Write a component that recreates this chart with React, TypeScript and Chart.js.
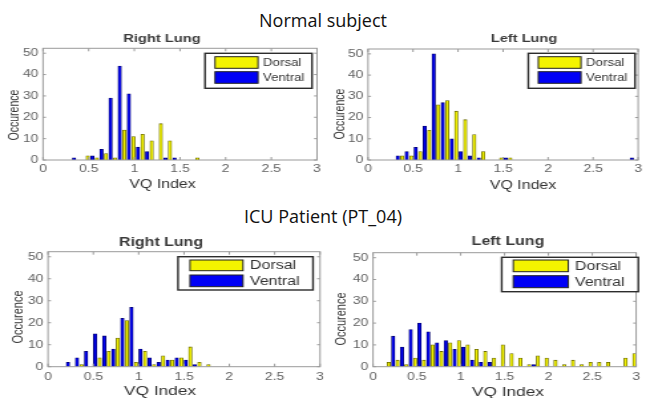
import React, { useEffect, useRef } from 'react';
import { Chart, registerables } from 'chart.js';

Chart.register(...registerables);

// ---------------- data ----------------
const X_TICKS = [0, 0.5, 1, 1.5, 2, 2.5, 3];
const Y_TICKS = [0, 10, 20, 30, 40, 50];
const Y_MAX = 52.3;
const SERIES_NAMES = ['Dorsal', 'Ventral'];

// Normal subject - right lung
const NR_DORSAL_X = [0.49, 0.59, 0.69, 0.79, 0.89, 0.99, 1.09, 1.19, 1.29, 1.39, 1.69];
const NR_DORSAL_Y = [2, 1, 3, 1, 14, 11, 12, 9, 17, 9, 1];
const NR_VENTRAL_X = [0.34, 0.54, 0.64, 0.74, 0.84, 0.94, 1.04, 1.14, 1.34, 1.44];
const NR_VENTRAL_Y = [1, 2, 5, 29, 44, 31, 6, 4, 1, 1];

// Normal subject - left lung
const NL_DORSAL_X = [0.38, 0.48, 0.58, 0.68, 0.78, 0.88, 0.98, 1.08, 1.18, 1.28, 1.48, 1.58];
const NL_DORSAL_Y = [2, 2, 4, 14, 26, 28, 23, 19, 12, 4, 1, 1];
const NL_VENTRAL_X = [0.33, 0.43, 0.53, 0.63, 0.73, 0.83, 0.93, 1.03, 1.13, 1.23, 1.53, 2.93];
const NL_VENTRAL_Y = [2, 4, 6, 16, 50, 27, 10, 4, 2, 1, 1, 1];

// ICU patient - right lung
const IR_DORSAL_X = [0.37, 0.57, 0.67, 0.77, 0.87, 0.97, 1.07, 1.17, 1.27, 1.37, 1.47, 1.57, 1.67, 1.77];
const IR_DORSAL_Y = [1, 4, 7, 13, 21, 2, 7, 1, 5, 3, 4, 9, 2, 1];
const IR_VENTRAL_X = [0.22, 0.32, 0.42, 0.52, 0.62, 0.72, 0.82, 0.92, 1.02, 1.12, 1.22, 1.32, 1.42, 1.52, 1.62];
const IR_VENTRAL_Y = [2, 4, 7, 15, 14, 8, 22, 27, 8, 4, 2, 3, 4, 3, 1];

// ICU patient - left lung
const IL_DORSAL_X = [0.18, 0.28, 0.38, 0.48, 0.58, 0.68, 0.78, 0.88, 0.98, 1.08, 1.18, 1.28, 1.38, 1.48, 1.58, 1.68, 1.78, 1.88, 1.98, 2.08, 2.18, 2.28, 2.38, 2.48, 2.58, 2.68, 2.88, 2.98];
const IL_DORSAL_Y = [2, 3, 1, 4, 3, 10, 7, 11, 12, 10, 8, 7, 4, 10, 6, 4, 1, 5, 4, 3, 1, 3, 1, 2, 2, 2, 4, 6];
const IL_VENTRAL_X = [0.23, 0.33, 0.43, 0.53, 0.63, 0.73, 0.83, 0.93, 1.03, 1.13, 1.23, 1.33, 1.83];
const IL_VENTRAL_Y = [14, 9, 17, 20, 16, 11, 12, 8, 9, 3, 2, 2, 1];

// ---------------- layout / style ----------------
const PAGE_W = 646;
const PAGE_H = 398;
const CANVAS_W = 486; // internal width, stretched horizontally to PAGE_W
const SX = PAGE_W / CANVAS_W;
const ROW_H = 200;
const XH = 30;
const FONT = '"Liberation Sans", Arial, sans-serif';
const DORSAL_FILL = '#f4f400';
const DORSAL_EDGE = '#6a6a00';
const VENTRAL_FILL = '#0000f6';
const VENTRAL_EDGE = '#00006a';

type LegendSpec = { box: number[]; sw: number[]; sy1: number[]; sy2: number[]; tx: number; size: number };
type PanelSpec = {
  key: string; rowTop: number; title: string; area: number[];
  titlePos: number[]; titleSize: number; xLabelPos: number[]; xLabelSize: number;
  yLabelPos: number[]; yLabelSize: number; xTickPad: number; legend: LegendSpec;
  dx: number[]; dy: number[]; vx: number[]; vy: number[];
};

const PANELS: PanelSpec[] = [
  {
    key: 'nr', rowTop: 0, title: 'Right Lung', area: [43, 317, 48.3, 160],
    titlePos: [162, 38.8], titleSize: 11, xLabelPos: [162.5, 185], xLabelSize: 12,
    yLabelPos: [15, 115], yLabelSize: 10.5, xTickPad: 3,
    legend: { box: [205, 53.3, 312, 88.3], sw: [215, 258], sy1: [56.7, 68.3], sy2: [71.7, 83.3], tx: 263, size: 10 },
    dx: NR_DORSAL_X, dy: NR_DORSAL_Y, vx: NR_VENTRAL_X, vy: NR_VENTRAL_Y,
  },
  {
    key: 'nl', rowTop: 0, title: 'Left Lung', area: [368, 640, 49, 160],
    titlePos: [524, 39], titleSize: 11, xLabelPos: [523, 186], xLabelSize: 12,
    yLabelPos: [340, 114], yLabelSize: 10.5, xTickPad: 3,
    legend: { box: [528.3, 53.3, 635, 88.3], sw: [538.3, 581], sy1: [56.7, 68.3], sy2: [71.7, 83.3], tx: 586, size: 10 },
    dx: NL_DORSAL_X, dy: NL_DORSAL_Y, vx: NL_VENTRAL_X, vy: NL_VENTRAL_Y,
  },
  {
    key: 'ir', rowTop: 198, title: 'Right Lung', area: [48, 320, 251.7, 366.7],
    titlePos: [161, 242.8], titleSize: 12, xLabelPos: [160, 391], xLabelSize: 13,
    yLabelPos: [19, 317], yLabelSize: 11, xTickPad: 4.5,
    legend: { box: [178, 256.7, 313, 290], sw: [190, 243], sy1: [260, 270.7], sy2: [275, 286.7], tx: 250, size: 12 },
    dx: IR_DORSAL_X, dy: IR_DORSAL_Y, vx: IR_VENTRAL_X, vy: IR_VENTRAL_Y,
  },
  {
    key: 'il', rowTop: 198, title: 'Left Lung', area: [373, 645, 252.7, 366.7],
    titlePos: [508, 242], titleSize: 12, xLabelPos: [508, 392], xLabelSize: 13,
    yLabelPos: [341.7, 319], yLabelSize: 11, xTickPad: 4.5,
    legend: { box: [501.7, 257.3, 638.3, 291.7], sw: [513.3, 568.3], sy1: [260, 271.7], sy2: [275.7, 287.7], tx: 575, size: 12 },
    dx: IL_DORSAL_X, dy: IL_DORSAL_Y, vx: IL_VENTRAL_X, vy: IL_VENTRAL_Y,
  },
];

function makeDecor(spec: PanelSpec) {
  const toX = (p: number) => p / SX;
  const toY = (p: number) => p - spec.rowTop;
  return {
    id: 'panelDecor',
    afterDatasetsDraw(chart: any) {
      const { ctx, chartArea: a, scales } = chart;
      ctx.save();
      ctx.strokeStyle = '#9a9a9a';
      ctx.lineWidth = 1;
      ctx.strokeRect(a.left, a.top, a.right - a.left, a.bottom - a.top);
      ctx.beginPath();
      const tx = 3 / SX;
      const ty = 3;
      for (const v of X_TICKS) {
        const p = scales.x.getPixelForValue(v);
        ctx.moveTo(p, a.bottom); ctx.lineTo(p, a.bottom - ty);
        ctx.moveTo(p, a.top); ctx.lineTo(p, a.top + ty);
      }
      for (const v of Y_TICKS) {
        const p = scales.y.getPixelForValue(v);
        ctx.moveTo(a.left, p); ctx.lineTo(a.left + tx, p);
        ctx.moveTo(a.right, p); ctx.lineTo(a.right - tx, p);
      }
      ctx.stroke();
      ctx.restore();
    },
    afterDraw(chart: any) {
      const { ctx } = chart;
      const lg = spec.legend;
      ctx.save();
      // legend box
      const x0 = toX(lg.box[0]), y0 = toY(lg.box[1]), x1 = toX(lg.box[2]), y1 = toY(lg.box[3]);
      ctx.fillStyle = '#ffffff';
      ctx.fillRect(x0, y0, x1 - x0, y1 - y0);
      ctx.strokeStyle = '#2c2c2c';
      ctx.lineWidth = 1.4;
      ctx.strokeRect(x0, y0, x1 - x0, y1 - y0);
      chart.data.datasets.forEach((ds: any, i: number) => {
        const sy = i === 0 ? lg.sy1 : lg.sy2;
        const sx0 = toX(lg.sw[0]), sx1 = toX(lg.sw[1]);
        const yy0 = toY(sy[0]), yy1 = toY(sy[1]);
        ctx.fillStyle = ds.backgroundColor;
        ctx.fillRect(sx0, yy0, sx1 - sx0, yy1 - yy0);
        ctx.strokeStyle = '#222222';
        ctx.lineWidth = 1;
        ctx.strokeRect(sx0, yy0, sx1 - sx0, yy1 - yy0);
        ctx.fillStyle = '#333333';
        ctx.font = `${lg.size}px ${FONT}`;
        ctx.textAlign = 'left';
        ctx.textBaseline = 'middle';
        ctx.fillText(ds.label, toX(lg.tx), (yy0 + yy1) / 2 + 0.5);
      });
      // panel title
      ctx.fillStyle = '#3a3a3a';
      ctx.textAlign = 'center';
      ctx.textBaseline = 'middle';
      ctx.font = `bold ${spec.titleSize}px ${FONT}`;
      ctx.fillText(spec.title, toX(spec.titlePos[0]), toY(spec.titlePos[1]));
      // x label
      ctx.fillStyle = '#333333';
      ctx.font = `${spec.xLabelSize}px ${FONT}`;
      ctx.fillText('VQ Index', toX(spec.xLabelPos[0]), toY(spec.xLabelPos[1]));
      // y label
      ctx.translate(toX(spec.yLabelPos[0]), toY(spec.yLabelPos[1]));
      ctx.rotate(-Math.PI / 2);
      ctx.font = `${spec.yLabelSize}px ${FONT}`;
      ctx.fillText('Occurence', 0, 0);
      ctx.restore();
    },
  };
}

function buildConfig(spec: PanelSpec): any {
  const L = spec.area[0] / SX;
  const R = spec.area[1] / SX;
  const T = spec.area[2] - spec.rowTop;
  const B = spec.area[3] - spec.rowTop;
  const tickColor = '#626262';
  return {
    type: 'bar',
    data: {
      datasets: [
        {
          label: SERIES_NAMES[0],
          data: spec.dx.map((x, i) => ({ x, y: spec.dy[i] })),
          backgroundColor: DORSAL_FILL, borderColor: DORSAL_EDGE, borderWidth: 0.8,
          barThickness: 2.5, grouped: false,
        },
        {
          label: SERIES_NAMES[1],
          data: spec.vx.map((x, i) => ({ x, y: spec.vy[i] })),
          backgroundColor: VENTRAL_FILL, borderColor: VENTRAL_EDGE, borderWidth: 0.8,
          barThickness: 2.5, grouped: false,
        },
      ],
    },
    options: {
      responsive: false,
      maintainAspectRatio: false,
      animation: false,
      devicePixelRatio: 1,
      events: [],
      layout: {
        autoPadding: false,
        padding: { left: 0, right: CANVAS_W - R, top: T, bottom: ROW_H - B - XH },
      },
      plugins: { legend: { display: false }, tooltip: { enabled: false }, title: { display: false } },
      scales: {
        x: {
          type: 'linear', min: 0, max: 3, offset: false,
          grid: { display: false, drawTicks: false }, border: { display: false },
          afterBuildTicks: (s: any) => { s.ticks = X_TICKS.map((v) => ({ value: v })); },
          afterFit: (s: any) => { s.height = XH; },
          ticks: {
            autoSkip: false, maxRotation: 0, padding: spec.xTickPad, color: tickColor,
            font: { family: 'Liberation Sans', size: 10.5 },
            callback: (v: any) => String(v),
          },
        },
        y: {
          type: 'linear', min: 0, max: Y_MAX,
          grid: { display: false, drawTicks: false }, border: { display: false },
          afterBuildTicks: (s: any) => { s.ticks = Y_TICKS.map((v) => ({ value: v })); },
          afterFit: (s: any) => { s.width = L; },
          ticks: {
            padding: 3.5, color: tickColor,
            font: { family: 'Liberation Sans', size: 10.5 },
            callback: (v: any) => String(v),
          },
        },
      },
    },
    plugins: [makeDecor(spec)],
  };
}

function Panel({ spec }: { spec: PanelSpec }) {
  const ref = useRef<HTMLCanvasElement>(null);
  useEffect(() => {
    if (!ref.current) return;
    const chart = new Chart(ref.current, buildConfig(spec));
    return () => chart.destroy();
  }, [spec]);
  return (
    <canvas
      ref={ref}
      width={CANVAS_W}
      height={ROW_H}
      style={{ position: 'absolute', left: 0, top: spec.rowTop, width: PAGE_W, height: ROW_H }}
    />
  );
}

const headStyle: React.CSSProperties = {
  position: 'absolute', left: 0, width: PAGE_W, textAlign: 'center',
  fontFamily: '"Open Sans", "Noto Sans", sans-serif', fontSize: 18, lineHeight: '18px', color: '#111',
};

export default function App() {
  return (
    <div style={{ position: 'absolute', left: 0, top: 0, width: PAGE_W, height: PAGE_H, overflow: 'hidden', background: '#fff' }}>
      <div style={{ ...headStyle, top: 10.5 }}>Normal subject</div>
      <div style={{ ...headStyle, top: 207 }}>ICU Patient (PT_04)</div>
      {PANELS.map((p) => <Panel key={p.key} spec={p} />)}
    </div>
  );
}
